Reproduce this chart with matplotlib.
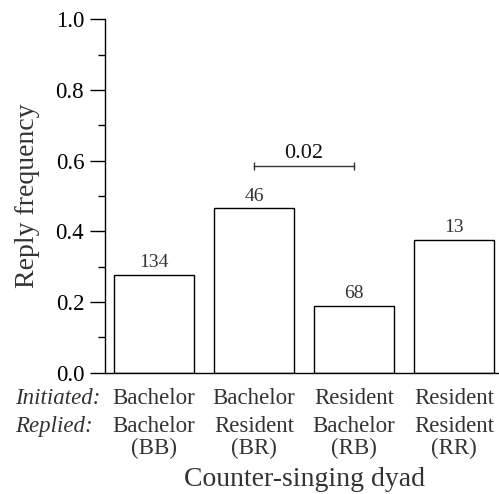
# Reply frequency by counter-singing dyad
import numpy as np
import matplotlib
matplotlib.use("Agg")
import matplotlib.pyplot as plt
from matplotlib.ticker import MultipleLocator

# Data
dyads = ["BB", "BR", "RB", "RR"]
initiated = ["Bachelor", "Bachelor", "Resident", "Resident"]
replied = ["Bachelor", "Resident", "Bachelor", "Resident"]
reply_freq = [0.277, 0.465, 0.189, 0.375]
n_counts = [134, 46, 68, 13]
sig_pair = [1, 2]
sig_label = "0.02"
sig_height = 0.585

plt.rcParams["font.family"] = ["Liberation Serif", "DejaVu Serif"]
text_col = "#333333"

fig = plt.figure(figsize=(4.99, 4.94), dpi=100)
ax = fig.add_axes([105 / 499, 1 - 372.5 / 494, 394 / 499, 353 / 494])

x = np.arange(len(dyads))
bars = ax.bar(x, reply_freq, width=0.8, color="white", edgecolor="black", linewidth=1.0)

# sample sizes above bars
for xi, h, n in zip(x, reply_freq, n_counts):
    ax.annotate(str(n), (xi, h), xytext=(0, 5.5), textcoords="offset points",
                ha="center", va="baseline", fontsize=14, color=text_col)

# significance bracket
ax.plot(sig_pair, [sig_height, sig_height], color="#333333", lw=1.0)
ax.plot(sig_pair, [sig_height, sig_height], color="#333333", lw=0,
        marker="|", markersize=6, markeredgewidth=1.0)
ax.text(np.mean(sig_pair), sig_height + 0.022, sig_label, ha="center", va="baseline",
        fontsize=16, color="#111111")

ax.set_xlim(-0.49, 3.45)
ax.set_ylim(0, 1)
ax.yaxis.set_major_locator(MultipleLocator(0.2))
ax.yaxis.set_minor_locator(MultipleLocator(0.1))
ax.yaxis.set_major_formatter(matplotlib.ticker.FormatStrFormatter("%.1f"))
ax.tick_params(axis="y", which="major", length=11, width=1.0, labelsize=16.5,
               pad=4, labelcolor="black")
ax.tick_params(axis="y", which="minor", length=5, width=1.0)
ax.set_xticks([])

for s in ["top", "right"]:
    ax.spines[s].set_visible(False)
for s in ["left", "bottom"]:
    ax.spines[s].set_linewidth(1.0)

# category labels below the axis
def yfrac(py):
    return (372.5 - py) / 353

tr = ax.get_xaxis_transform()
ax.text(-1.39, yfrac(404), "Initiated:", style="italic", ha="left", va="baseline",
        fontsize=16.5, color=text_col, transform=tr, clip_on=False)
ax.text(-1.39, yfrac(432), "Replied:", style="italic", ha="left", va="baseline",
        fontsize=16.5, color=text_col, transform=tr, clip_on=False)
for xi, a, b, d in zip(x, initiated, replied, dyads):
    ax.text(xi, yfrac(404), a, ha="center", va="baseline", fontsize=16.5,
            color=text_col, transform=tr, clip_on=False)
    ax.text(xi, yfrac(432), b, ha="center", va="baseline", fontsize=16.5,
            color=text_col, transform=tr, clip_on=False)
    ax.text(xi, yfrac(454), "(" + d + ")", ha="center", va="baseline", fontsize=16.5,
            color=text_col, transform=tr, clip_on=False)

ax.text(1.5, yfrac(486), "Counter-singing dyad", ha="center", va="baseline",
        fontsize=20, color=text_col, transform=tr, clip_on=False)
fig.text(28 / 499, 1 - 196 / 494, "Reply frequency", rotation=90, ha="center",
         va="center", fontsize=20, color=text_col)

fig.savefig("out.png", dpi=100)
